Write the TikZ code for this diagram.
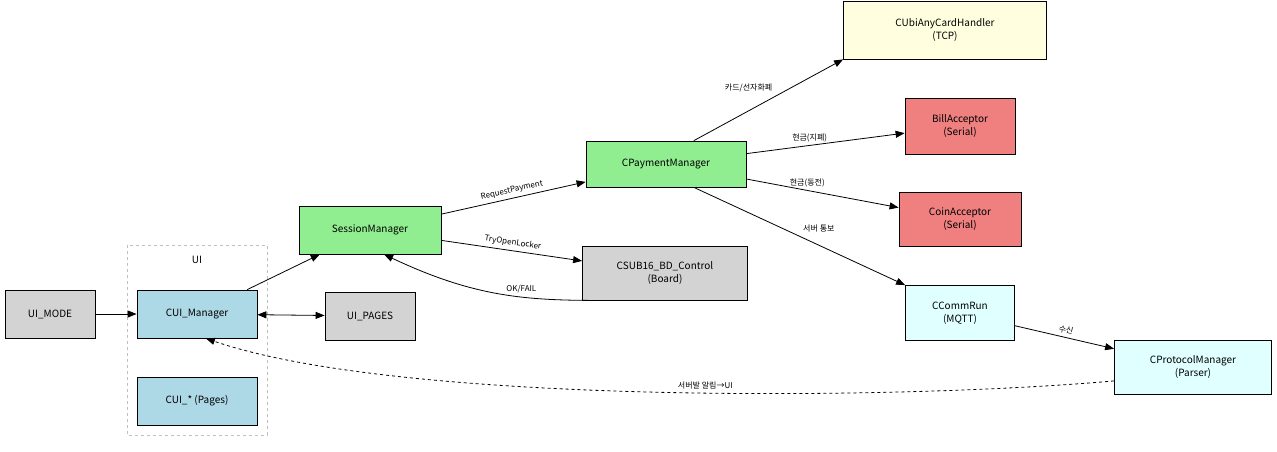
\documentclass[tikz,border=0pt]{standalone}
\usepackage{fontspec}
\setmainfont{Noto Sans CJK KR}
\usetikzlibrary{positioning,arrows.meta}
\definecolor{uiblue}{HTML}{ADD8E6}
\definecolor{uigreen}{HTML}{90EE90}
\definecolor{uigray}{HTML}{D3D3D3}
\definecolor{uired}{HTML}{F08080}
\definecolor{uicyan}{HTML}{E0FFFF}
\definecolor{uiyellow}{HTML}{FFFFE0}
\tikzset{
  box/.style={draw, thick, align=center, font=\fontsize{10}{13}\selectfont, inner sep=2pt},
  lbl/.style={font=\fontsize{8}{10}\selectfont, fill=none},
}
\begin{document}
\begin{tikzpicture}[x=1pt,y=-1pt,>={Triangle[length=9pt,width=7pt]},thick]
\useasboundingbox (0,0) rectangle (1277,451);

\draw[gray!50, dashed] (127,245) rectangle (267,435);
\node[font=\fontsize{10}{12}\selectfont] (uilbl) at (197,260) {UI};

\node[box, fill=uigray, minimum width=90, minimum height=48] (mode) at (50,314) {UI\_MODE};
\node[box, fill=uiblue, minimum width=120, minimum height=48] (mgr) at (197,314) {CUI\_Manager};
\node[box, fill=uiblue, minimum width=120, minimum height=48] (pages) at (197,401) {CUI\_* (Pages)};
\node[box, fill=uigray, minimum width=90, minimum height=48] (uip) at (370,316) {UI\_PAGES};
\node[box, fill=uigreen, minimum width=142, minimum height=48] (sess) at (370,230) {SessionManager};
\node[box, fill=uigray, minimum width=165, minimum height=54] (bd) at (665,273) {CSUB16\_BD\_Control\\(Board)};
\node[box, fill=uigreen, minimum width=160, minimum height=46] (pay) at (666,164) {CPaymentManager};
\node[box, fill=uiyellow, minimum width=203, minimum height=58] (ubi) at (945,30) {CUbiAnyCardHandler\\(TCP)};
\node[box, fill=uired, minimum width=110, minimum height=56] (bill) at (960,126) {BillAcceptor\\(Serial)};
\node[box, fill=uired, minimum width=122, minimum height=54] (coin) at (960,219) {CoinAcceptor\\(Serial)};
\node[box, fill=uicyan, minimum width=109, minimum height=55] (comm) at (960,313) {CCommRun\\(MQTT)};
\node[box, fill=uicyan, minimum width=157, minimum height=54] (proto) at (1193,367) {CProtocolManager\\(Parser)};

\draw[->] (mode) -- (mgr);
\draw[->] (mgr) -- (sess);
\draw[<->] (mgr) -- (uip);
\draw[->] (sess) -- node[lbl, above, sloped] {RequestPayment} (pay);
\draw[->] (sess) -- node[lbl, above, sloped] {TryOpenLocker} (bd);
\draw[->] (bd.200) .. controls (520,300) and (470,295) .. node[lbl, above, pos=0.35] {OK/FAIL} (sess.-60);
\draw[->] (pay.40) -- node[lbl, above left, pos=0.55] {카드/선자화폐} (ubi.south west);
\draw[->] (pay) -- node[lbl, above, pos=0.4] {현금(지폐)} (bill);
\draw[->] (pay) -- node[lbl, above, pos=0.4] {현금(동전)} (coin);
\draw[->] (pay.-40) -- node[lbl, above right, pos=0.5] {서버 통보} (comm.north west);
\draw[->] (comm) -- node[lbl, above, sloped] {수신} (proto);
\draw[->, dashed] (proto.190) .. controls (900,400) and (400,405) .. node[lbl, above, pos=0.45] {서버발 알림→UI} (mgr.-70);
\end{tikzpicture}
\end{document}
